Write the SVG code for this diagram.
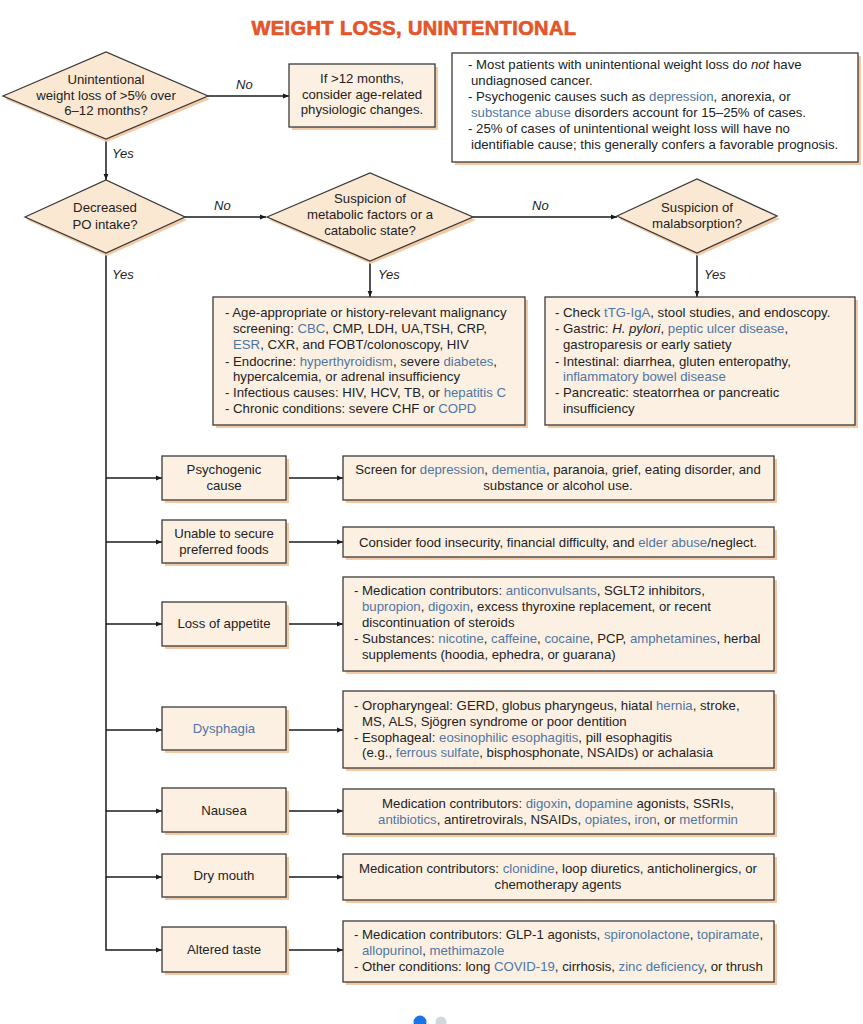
<svg xmlns="http://www.w3.org/2000/svg" width="863" height="1024" viewBox="0 0 863 1024">
<defs>
<style>
.bg{fill:#ffffff}
.box{fill:#fcf0e2;stroke:#3a3a3a;stroke-width:1.3}
.note{fill:#ffffff;stroke:#3a3a3a;stroke-width:1.3}
.sh{fill:#f5c9a3}
.dia{fill:#fbe8d3;stroke:#3a3a3a;stroke-width:1.3}
.t{font-family:"Liberation Sans",Arial,sans-serif;font-size:13.2px;fill:#222222}
.c{text-anchor:middle}
.lk{fill:#4f76a3}
.i{font-style:italic}
.lbl{font-family:"Liberation Sans",Arial,sans-serif;font-size:13px;font-style:italic;fill:#222222}
.conn{stroke:#1a1a1a;stroke-width:1.5;fill:none}
.title{font-family:"Liberation Sans",Arial,sans-serif;font-size:20px;font-weight:700;fill:#e3562a;stroke:#e3562a;stroke-width:0.7;text-anchor:middle;letter-spacing:0.4px}
</style>
<marker id="ah" viewBox="0 0 10 10" refX="10" refY="5" markerWidth="8" markerHeight="6" markerUnits="userSpaceOnUse" orient="auto">
<path d="M0,1 L10,5 L0,9 Z" fill="#1a1a1a"/>
</marker>
</defs>
<rect class="bg" x="0" y="0" width="863" height="1024"/>
<text class="title" x="414" y="35">WEIGHT LOSS, UNINTENTIONAL</text>

<g id="connectors">
<line class="conn" x1="207" y1="96" x2="289" y2="96" marker-end="url(#ah)"/>
<line class="conn" x1="106" y1="139" x2="106" y2="180" marker-end="url(#ah)"/>
<line class="conn" x1="184" y1="217" x2="266" y2="217" marker-end="url(#ah)"/>
<line class="conn" x1="473" y1="217" x2="617" y2="217" marker-end="url(#ah)"/>
<line class="conn" x1="370" y1="261" x2="370" y2="297" marker-end="url(#ah)"/>
<line class="conn" x1="697" y1="253" x2="697" y2="297" marker-end="url(#ah)"/>
<path class="conn" d="M106,253 V950 H162" marker-end="url(#ah)"/>
<line class="conn" x1="106" y1="478" x2="162" y2="478" marker-end="url(#ah)"/>
<line class="conn" x1="106" y1="542" x2="162" y2="542" marker-end="url(#ah)"/>
<line class="conn" x1="106" y1="624" x2="162" y2="624" marker-end="url(#ah)"/>
<line class="conn" x1="106" y1="730" x2="162" y2="730" marker-end="url(#ah)"/>
<line class="conn" x1="106" y1="811" x2="162" y2="811" marker-end="url(#ah)"/>
<line class="conn" x1="106" y1="877" x2="162" y2="877" marker-end="url(#ah)"/>
<line class="conn" x1="286" y1="478" x2="343" y2="478" marker-end="url(#ah)"/>
<line class="conn" x1="286" y1="542" x2="343" y2="542" marker-end="url(#ah)"/>
<line class="conn" x1="286" y1="624" x2="343" y2="624" marker-end="url(#ah)"/>
<line class="conn" x1="286" y1="730" x2="343" y2="730" marker-end="url(#ah)"/>
<line class="conn" x1="286" y1="811" x2="343" y2="811" marker-end="url(#ah)"/>
<line class="conn" x1="286" y1="877" x2="343" y2="877" marker-end="url(#ah)"/>
<line class="conn" x1="286" y1="950" x2="343" y2="950" marker-end="url(#ah)"/>
<text class="lbl" x="236" y="89">No</text>
<text class="lbl" x="112" y="158">Yes</text>
<text class="lbl" x="214" y="210">No</text>
<text class="lbl" x="532" y="210">No</text>
<text class="lbl" x="112" y="279">Yes</text>
<text class="lbl" x="378" y="279">Yes</text>
<text class="lbl" x="704" y="279">Yes</text>
</g>

<g id="d1">
<polygon class="sh" points="5,99 107,55 210,99 107,142"/>
<polygon class="dia" points="3,96 106,52 208,96 106,139"/>
<text class="t c" x="106" y="84">Unintentional</text>
<text class="t c" x="106" y="100">weight loss of &gt;5% over</text>
<text class="t c" x="106" y="115">6–12 months?</text>
</g>

<g id="b-age">
<rect class="sh" x="292" y="67" width="146" height="63"/>
<rect class="box" x="289" y="64" width="146" height="63"/>
<text class="t c" x="362" y="83">If &gt;12 months,</text>
<text class="t c" x="362" y="99">consider age-related</text>
<text class="t c" x="362" y="114">physiologic changes.</text>
</g>

<g id="notes">
<rect class="sh" x="455" y="56" width="406" height="109"/>
<rect class="note" x="452" y="53" width="406" height="109"/>
<text class="t" x="468" y="69">- Most patients with unintentional weight loss do <tspan class="i">not</tspan> have</text>
<text class="t" x="471" y="85">undiagnosed cancer.</text>
<text class="t" x="468" y="101">- Psychogenic causes such as <tspan class="lk">depression</tspan>, anorexia, or</text>
<text class="t" x="471" y="117"><tspan class="lk">substance abuse</tspan> disorders account for 15–25% of cases.</text>
<text class="t" x="468" y="133">- 25% of cases of unintentional weight loss will have no</text>
<text class="t" x="471" y="149">identifiable cause; this generally confers a favorable prognosis.</text>
</g>

<g id="d2">
<polygon class="sh" points="27,220 107,183 187,220 107,256"/>
<polygon class="dia" points="25,217 106,180 185,217 106,253"/>
<text class="t c" x="105" y="212">Decreased</text>
<text class="t c" x="105" y="229">PO intake?</text>
</g>

<g id="d3">
<polygon class="sh" points="269,220 371,176 476,220 371,264"/>
<polygon class="dia" points="267,217 370,173 473,217 370,261"/>
<text class="t c" x="370" y="203">Suspicion of</text>
<text class="t c" x="370" y="219">metabolic factors or a</text>
<text class="t c" x="370" y="235">catabolic state?</text>
</g>

<g id="d4">
<polygon class="sh" points="619,219 698,182 780,219 698,256"/>
<polygon class="dia" points="617,216 697,179 777,216 697,253"/>
<text class="t c" x="697" y="212">Suspicion of</text>
<text class="t c" x="697" y="228">malabsorption?</text>
</g>

<g id="b-metabolic">
<rect class="sh" x="216" y="300" width="312" height="128"/>
<rect class="box" x="213" y="297" width="312" height="128"/>
<text class="t" x="225" y="317">- Age-appropriate or history-relevant malignancy</text>
<text class="t" x="233" y="333">screening: <tspan class="lk">CBC</tspan>, CMP, LDH, UA,TSH, CRP,</text>
<text class="t" x="233" y="349"><tspan class="lk">ESR</tspan>, CXR, and FOBT/colonoscopy, HIV</text>
<text class="t" x="225" y="366">- Endocrine: <tspan class="lk">hyperthyroidism</tspan>, severe <tspan class="lk">diabetes</tspan>,</text>
<text class="t" x="233" y="381">hypercalcemia, or adrenal insufficiency</text>
<text class="t" x="225" y="397">- Infectious causes: HIV, HCV, TB, or <tspan class="lk">hepatitis C</tspan></text>
<text class="t" x="225" y="413">- Chronic conditions: severe CHF or <tspan class="lk">COPD</tspan></text>
</g>

<g id="b-malabsorption">
<rect class="sh" x="548" y="300" width="310" height="128"/>
<rect class="box" x="545" y="297" width="310" height="128"/>
<text class="t" x="555" y="317">- Check <tspan class="lk">tTG-IgA</tspan>, stool studies, and endoscopy.</text>
<text class="t" x="555" y="333">- Gastric: <tspan class="i">H. pylori</tspan>, <tspan class="lk">peptic ulcer disease</tspan>,</text>
<text class="t" x="563" y="349">gastroparesis or early satiety</text>
<text class="t" x="555" y="366">- Intestinal: diarrhea, gluten enteropathy,</text>
<text class="t" x="563" y="381"><tspan class="lk">inflammatory bowel disease</tspan></text>
<text class="t" x="555" y="397">- Pancreatic: steatorrhea or pancreatic</text>
<text class="t" x="563" y="413">insufficiency</text>
</g>

<g id="n-psychogenic">
<rect class="sh" x="165" y="459" width="124" height="44"/>
<rect class="box" x="162" y="456" width="124" height="44"/>
<text class="t c" x="224" y="474">Psychogenic</text>
<text class="t c" x="224" y="490">cause</text>
</g>
<g id="r-psychogenic">
<rect class="sh" x="346" y="459" width="431" height="44"/>
<rect class="box" x="343" y="456" width="431" height="44"/>
<text class="t c" x="558" y="474">Screen for <tspan class="lk">depression</tspan>, <tspan class="lk">dementia</tspan>, paranoia, grief, eating disorder, and</text>
<text class="t c" x="558" y="490">substance or alcohol use.</text>
</g>

<g id="n-foods">
<rect class="sh" x="165" y="523" width="124" height="43"/>
<rect class="box" x="162" y="520" width="124" height="43"/>
<text class="t c" x="224" y="538">Unable to secure</text>
<text class="t c" x="224" y="554">preferred foods</text>
</g>
<g id="r-foods">
<rect class="sh" x="346" y="530" width="431" height="30"/>
<rect class="box" x="343" y="527" width="431" height="30"/>
<text class="t c" x="558" y="547">Consider food insecurity, financial difficulty, and <tspan class="lk">elder abuse</tspan>/neglect.</text>
</g>

<g id="n-appetite">
<rect class="sh" x="165" y="605" width="124" height="44"/>
<rect class="box" x="162" y="602" width="124" height="44"/>
<text class="t c" x="224" y="628">Loss of appetite</text>
</g>
<g id="r-appetite">
<rect class="sh" x="346" y="580" width="431" height="94"/>
<rect class="box" x="343" y="577" width="431" height="94"/>
<text class="t" x="354" y="595">- Medication contributors: <tspan class="lk">anticonvulsants</tspan>, SGLT2 inhibitors,</text>
<text class="t" x="362" y="611"><tspan class="lk">bupropion</tspan>, <tspan class="lk">digoxin</tspan>, excess thyroxine replacement, or recent</text>
<text class="t" x="362" y="627">discontinuation of steroids</text>
<text class="t" x="354" y="643">- Substances: <tspan class="lk">nicotine</tspan>, <tspan class="lk">caffeine</tspan>, <tspan class="lk">cocaine</tspan>, PCP, <tspan class="lk">amphetamines</tspan>, herbal</text>
<text class="t" x="362" y="659">supplements (hoodia, ephedra, or guarana)</text>
</g>

<g id="n-dysphagia">
<rect class="sh" x="165" y="710" width="124" height="43"/>
<rect class="box" x="162" y="707" width="124" height="43"/>
<text class="t c lk" x="224" y="733">Dysphagia</text>
</g>
<g id="r-dysphagia">
<rect class="sh" x="346" y="694" width="431" height="77"/>
<rect class="box" x="343" y="691" width="431" height="77"/>
<text class="t" x="354" y="710">- Oropharyngeal: GERD, globus pharyngeus, hiatal <tspan class="lk">hernia</tspan>, stroke,</text>
<text class="t" x="362" y="726">MS, ALS, Sjögren syndrome or poor dentition</text>
<text class="t" x="354" y="742">- Esophageal: <tspan class="lk">eosinophilic esophagitis</tspan>, pill esophagitis</text>
<text class="t" x="362" y="757">(e.g., <tspan class="lk">ferrous sulfate</tspan>, bisphosphonate, NSAIDs) or achalasia</text>
</g>

<g id="n-nausea">
<rect class="sh" x="165" y="791" width="124" height="44"/>
<rect class="box" x="162" y="788" width="124" height="44"/>
<text class="t c" x="224" y="815">Nausea</text>
</g>
<g id="r-nausea">
<rect class="sh" x="346" y="792" width="431" height="45"/>
<rect class="box" x="343" y="789" width="431" height="45"/>
<text class="t c" x="558" y="808">Medication contributors: <tspan class="lk">digoxin</tspan>, <tspan class="lk">dopamine</tspan> agonists, SSRIs,</text>
<text class="t c" x="558" y="824"><tspan class="lk">antibiotics</tspan>, antiretrovirals, NSAIDs, <tspan class="lk">opiates</tspan>, <tspan class="lk">iron</tspan>, or <tspan class="lk">metformin</tspan></text>
</g>

<g id="n-drymouth">
<rect class="sh" x="165" y="857" width="124" height="43"/>
<rect class="box" x="162" y="854" width="124" height="43"/>
<text class="t c" x="224" y="880">Dry mouth</text>
</g>
<g id="r-drymouth">
<rect class="sh" x="346" y="857" width="431" height="46"/>
<rect class="box" x="343" y="854" width="431" height="46"/>
<text class="t c" x="558" y="873">Medication contributors: <tspan class="lk">clonidine</tspan>, loop diuretics, anticholinergics, or</text>
<text class="t c" x="558" y="889">chemotherapy agents</text>
</g>

<g id="n-taste">
<rect class="sh" x="165" y="930" width="124" height="45"/>
<rect class="box" x="162" y="927" width="124" height="45"/>
<text class="t c" x="224" y="954">Altered taste</text>
</g>
<g id="r-taste">
<rect class="sh" x="346" y="924" width="431" height="61"/>
<rect class="box" x="343" y="921" width="431" height="61"/>
<text class="t" x="354" y="939">- Medication contributors: GLP-1 agonists, <tspan class="lk">spironolactone</tspan>, <tspan class="lk">topiramate</tspan>,</text>
<text class="t" x="362" y="955"><tspan class="lk">allopurinol</tspan>, <tspan class="lk">methimazole</tspan></text>
<text class="t" x="354" y="971">- Other conditions: long <tspan class="lk">COVID-19</tspan>, cirrhosis, <tspan class="lk">zinc deficiency</tspan>, or thrush</text>
</g>

<circle cx="420" cy="1022" r="6.5" fill="#1a73e8"/>
<circle cx="441" cy="1022" r="5.5" fill="#d3d7dd"/>
</svg>
